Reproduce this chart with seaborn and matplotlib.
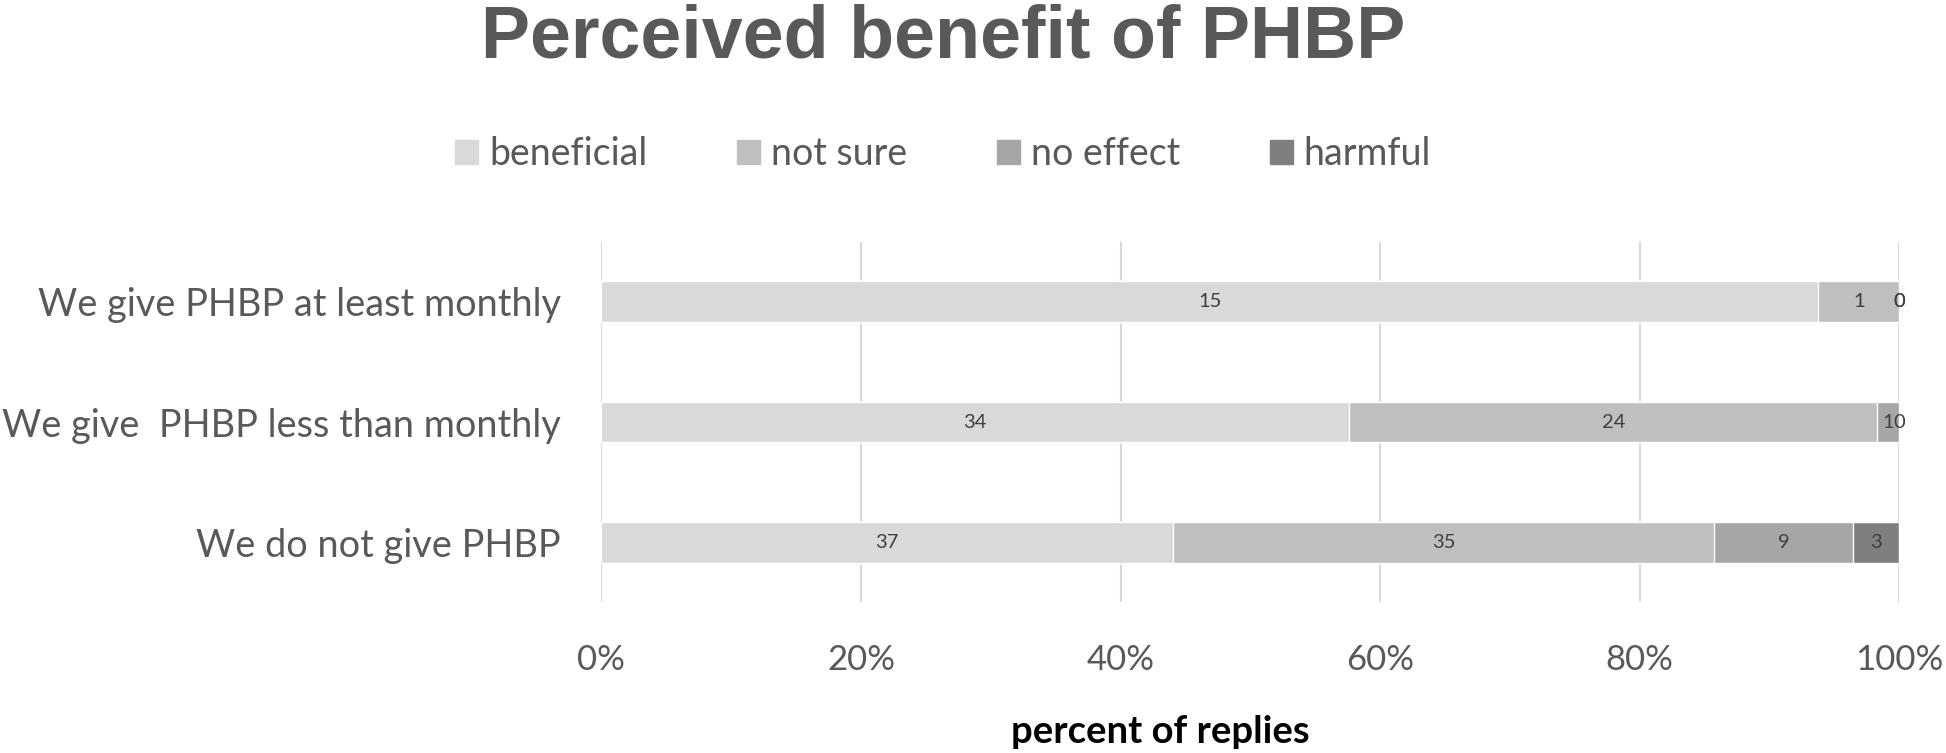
import matplotlib
matplotlib.use("Agg")
import matplotlib.pyplot as plt
import seaborn as sns
import numpy as np
import pandas as pd

categories = ["We give PHBP at least monthly", "We give  PHBP less than monthly", "We do not give PHBP"]
responses = ["beneficial", "not sure", "no effect", "harmful"]
beneficial = [15, 34, 37]
not_sure = [1, 24, 35]
no_effect = [0, 1, 9]
harmful = [0, 0, 3]
colors = ["#d9d9d9", "#bfbfbf", "#a6a6a6", "#7f7f7f"]
xticks = [0, 20, 40, 60, 80, 100]

sns.set_style("white")
plt.rcParams['font.family'] = ['Lato', 'DejaVu Sans']
TXT = "#595959"

counts = np.array([beneficial, not_sure, no_effect, harmful], dtype=float)
totals = counts.sum(axis=0)
pct = counts / totals * 100
cum = np.cumsum(pct, axis=0)

fig = plt.figure(figsize=(19.46, 7.53), dpi=100)
ax = fig.add_axes([0.309, 0.20, 0.667, 0.479])

for k in range(len(responses) - 1, -1, -1):
    df = pd.DataFrame({"cat": categories, "val": cum[k]})
    sns.barplot(data=df, x="val", y="cat", orient="h", color=colors[k],
                width=0.34, ax=ax, saturation=1, label=responses[k], zorder=3)

for k in range(len(responses)):
    for i in range(len(categories)):
        left = cum[k][i] - pct[k][i]
        c = counts[k][i]
        xc = left + pct[k][i] / 2
        ax.text(xc, i, f"{int(c)}", ha="center", va="center", fontsize=14.5,
                color="#404040", zorder=5)

ax.set_xlim(0, 100)
ax.set_ylim(2.5, -0.5)
ax.set_xticks(xticks)
ax.set_xticklabels([f"{t}%" for t in xticks], fontsize=25, color=TXT)
ax.tick_params(axis="x", length=0, pad=30)
ax.tick_params(axis="y", length=0, pad=29, labelsize=27.3, labelcolor=TXT)
ax.grid(axis="x", color="#d9d9d9", linewidth=1.5, zorder=0)
ax.set_axisbelow(True)
for s in ax.spines.values():
    s.set_visible(False)
ax.set_ylabel("")
ax.set_xlabel("")

if ax.get_legend():
    ax.get_legend().remove()

fig.text(935 / 1568, 1 - 590 / 607, "percent of replies", ha="center", va="center",
         fontsize=27.5, fontweight="bold", color="#000000")

handles = [plt.Rectangle((0, 0), 1, 1, color=c) for c in colors]
fig.legend(handles, responses, loc="center", bbox_to_anchor=(760 / 1568, 1 - 124 / 607),
           ncol=4, frameon=False, fontsize=27, labelcolor=TXT, handlelength=0.6,
           handleheight=0.6, handletextpad=0.3, columnspacing=2.4)

fig.text(760 / 1568, 1 - 31 / 607, "Perceived benefit of PHBP", ha="center", va="center",
         fontsize=53, fontweight="bold", color=TXT, family=["Liberation Sans", "DejaVu Sans"])

fig.savefig("out.png", dpi=100)
